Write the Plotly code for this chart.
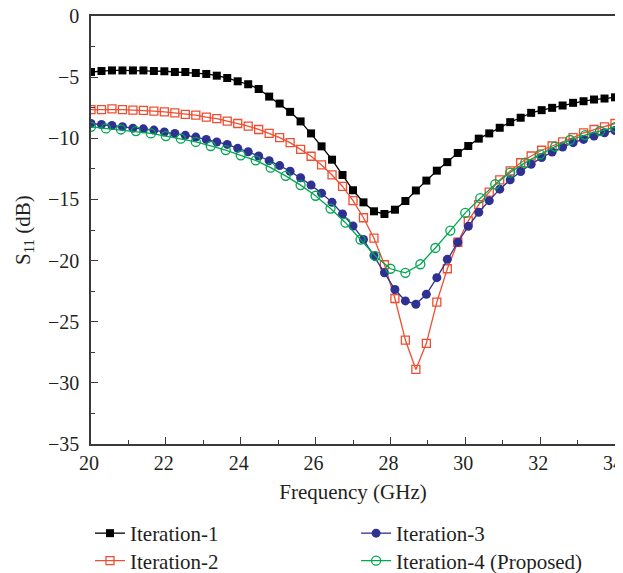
import plotly.graph_objects as go

# Frequency grids (GHz)
freq_a = [20.0, 20.28, 20.56, 20.84, 21.12, 21.4, 21.68, 21.96, 22.24, 22.52,
          22.8, 23.08, 23.36, 23.64, 23.92, 24.2, 24.48, 24.76, 25.04, 25.32,
          25.6, 25.88, 26.16, 26.44, 26.72, 27.0, 27.28, 27.56, 27.84, 28.12,
          28.4, 28.68, 28.96, 29.24, 29.52, 29.8, 30.08, 30.36, 30.64, 30.92,
          31.2, 31.48, 31.76, 32.04, 32.32, 32.6, 32.88, 33.16, 33.44, 33.72, 34.0]
freq_b = [20.0, 20.4, 20.8, 21.2, 21.6, 22.0, 22.4, 22.8, 23.2, 23.6, 24.0, 24.4,
          24.8, 25.2, 25.6, 26.0, 26.4, 26.8, 27.2, 27.6, 28.0, 28.4, 28.8, 29.2,
          29.6, 30.0, 30.4, 30.8, 31.2, 31.6, 32.0, 32.4, 32.8, 33.2, 33.6, 34.0]

iter1 = [-4.58, -4.50, -4.45, -4.45, -4.45, -4.45, -4.50, -4.52, -4.58, -4.58,
         -4.66, -4.74, -4.88, -5.07, -5.34, -5.58, -5.97, -6.59, -7.16, -7.84,
         -8.62, -9.60, -10.66, -11.75, -13.00, -14.25, -15.24, -15.97, -16.19, -15.84,
         -15.13, -14.27, -13.46, -12.65, -11.95, -11.20, -10.63, -10.03, -9.60, -9.14,
         -8.68, -8.32, -7.92, -7.70, -7.51, -7.32, -7.10, -6.97, -6.83, -6.75, -6.65]
iter2 = [-7.65, -7.65, -7.60, -7.65, -7.70, -7.72, -7.78, -7.84, -7.92, -8.05,
         -8.10, -8.27, -8.40, -8.60, -8.79, -9.00, -9.28, -9.60, -9.95, -10.36,
         -10.90, -11.47, -12.18, -13.00, -13.94, -15.10, -16.50, -18.17, -20.34, -23.10,
         -26.50, -28.90, -26.77, -23.40, -20.67, -18.50, -16.75, -15.43, -14.40, -13.40,
         -12.67, -12.00, -11.45, -10.98, -10.63, -10.30, -9.95, -9.55, -9.28, -9.06, -8.79]
iter3 = [-8.79, -8.87, -8.95, -9.05, -9.17, -9.23, -9.33, -9.49, -9.60, -9.76,
         -9.90, -10.09, -10.30, -10.50, -10.82, -11.10, -11.45, -11.83, -12.23, -12.70,
         -13.23, -13.83, -14.49, -15.24, -16.19, -17.17, -18.28, -19.60, -21.00, -22.37,
         -23.30, -23.57, -22.76, -21.40, -19.90, -18.50, -17.20, -16.05, -15.10, -14.16,
         -13.40, -12.72, -12.12, -11.58, -11.12, -10.72, -10.36, -10.09, -9.82, -9.55, -9.36]
iter4 = [-9.06, -9.19, -9.28, -9.41, -9.60, -9.82, -10.03, -10.30, -10.63, -10.96,
         -11.39, -11.80, -12.40, -13.07, -13.83, -14.70, -15.75, -16.90, -18.28, -19.63,
         -20.67, -21.00, -20.30, -18.97, -17.55, -16.10, -14.90, -13.76, -12.80, -11.99,
         -11.31, -10.68, -10.14, -9.74, -9.41, -9.09]

names = ["Iteration-1", "Iteration-2", "Iteration-3", "Iteration-4 (Proposed)"]
colors = ["#000000", "#f04e30", "#2e3192", "#00a651"]

FONT = "Liberation Serif"
TXT = "#231f20"
FS = 21
TFS = 20

fig = go.Figure()
fig.add_trace(go.Scatter(x=freq_a, y=iter1, name=names[0], mode="lines+markers",
                         line=dict(color=colors[0], width=1.3),
                         marker=dict(symbol="square", size=8, color=colors[0]),
                         showlegend=True, legend="legend"))
fig.add_trace(go.Scatter(x=freq_a, y=iter2, name=names[1], mode="lines+markers",
                         line=dict(color=colors[1], width=1.3),
                         marker=dict(symbol="square-open", size=8, color=colors[1],
                                     line=dict(width=1.3)),
                         showlegend=True, legend="legend2"))
fig.add_trace(go.Scatter(x=freq_a, y=iter3, name=names[2], mode="lines+markers",
                         line=dict(color=colors[2], width=1.3),
                         marker=dict(symbol="circle", size=9, color=colors[2]),
                         showlegend=True, legend="legend3"))
fig.add_trace(go.Scatter(x=freq_b, y=iter4, name=names[3], mode="lines+markers",
                         line=dict(color=colors[3], width=1.3),
                         marker=dict(symbol="circle-open", size=9, color=colors[3],
                                     line=dict(width=1.3)),
                         showlegend=True, legend="legend4"))

axis_common = dict(
    showline=True, linecolor="#3a3a3a", linewidth=1.5, mirror=True,
    ticks="inside", ticklen=7, tickwidth=1.2, tickcolor="#3a3a3a",
    showgrid=False, zeroline=False, automargin=False, ticklabeloverflow="allow",
    tickfont=dict(family=FONT, size=TFS, color=TXT),
)

fig.update_xaxes(range=[20, 34], dtick=2, tick0=20, ticklabelstandoff=0,
                 ticklabelshift=-2,
                 minor=dict(dtick=1, ticks="inside", ticklen=4, tickcolor="#3a3a3a"),
                 title=dict(text="Frequency (GHz)", font=dict(family=FONT, size=FS, color=TXT),
                            standoff=12),
                 **axis_common)
fig.update_yaxes(range=[-35, 0], dtick=5, tick0=0, ticklabelstandoff=6,
                 minor=dict(dtick=2.5, ticks="inside", ticklen=4, tickcolor="#3a3a3a"),
                 **axis_common)

# y-axis title as a rotated annotation beside the axis
fig.add_annotation(text="S<sub>11</sub> (dB)", xref="paper", yref="paper",
                   x=-0.128, y=0.5, xanchor="center", yanchor="middle",
                   textangle=-90, showarrow=False,
                   font=dict(family=FONT, size=FS, color=TXT))

def leg(x, y):
    return dict(orientation="v", xref="container", yref="container",
                x=x, xanchor="left", y=y, yanchor="top", visible=True,
                font=dict(family=FONT, size=FS, color=TXT),
                itemwidth=30, bgcolor="rgba(0,0,0,0)")

# The page body adds an 8 px offset, so the figure is sized to fill the window.
fig.update_layout(
    width=615, height=565,
    margin=dict(l=83, r=8, t=8, b=129, autoexpand=False),
    paper_bgcolor="white", plot_bgcolor="white",
    font=dict(family=FONT, color=TXT),
    showlegend=True,
    legend=leg(0.1333, 0.1062),
    legend2=leg(0.1333, 0.0575),
    legend3=leg(0.566, 0.1062),
    legend4=leg(0.566, 0.0575),
)

fig.write_html("out.html")
